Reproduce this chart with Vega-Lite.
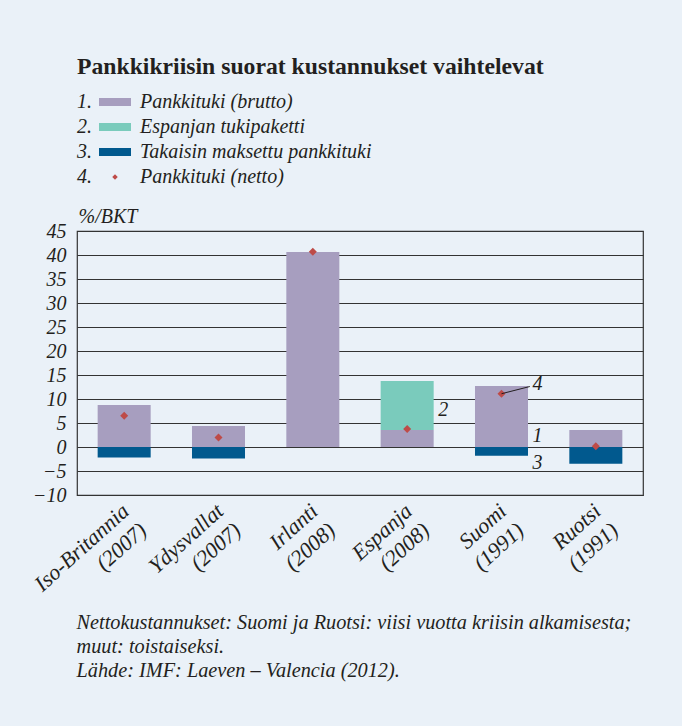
{
  "$schema": "https://vega.github.io/schema/vega-lite/v6.json",
  "autosize": {"type": "none"},
  "width": 566,
  "height": 264,
  "padding": {"left": 77, "top": 231, "right": 39, "bottom": 231},
  "background": "#EAF1F8",
  "title": {
    "text": "Pankkikriisin suorat kustannukset vaihtelevat",
    "anchor": "start",
    "frame": "group",
    "font": "Liberation Serif",
    "fontSize": 23.7,
    "fontWeight": "bold",
    "color": "#231F20",
    "offset": 13
  },
  "config": {
    "view": {"stroke": "#333333", "strokeWidth": 1.2},
    "font": "Liberation Serif",
    "text": {"font": "Liberation Serif"}
  },
  "datasets": {
    "bars": [
      {"country": "Iso-Britannia (2007)", "series": "Pankkituki (brutto)", "value": 8.75, "k": 1},
      {"country": "Iso-Britannia (2007)", "series": "Takaisin maksettu pankkituki", "value": -2.2, "k": 3},
      {"country": "Ydysvallat (2007)", "series": "Pankkituki (brutto)", "value": 4.4, "k": 1},
      {"country": "Ydysvallat (2007)", "series": "Takaisin maksettu pankkituki", "value": -2.4, "k": 3},
      {"country": "Irlanti (2008)", "series": "Pankkituki (brutto)", "value": 40.6, "k": 1},
      {"country": "Espanja (2008)", "series": "Pankkituki (brutto)", "value": 3.55, "k": 1},
      {"country": "Espanja (2008)", "series": "Espanjan tukipaketti", "value": 10.2, "k": 2},
      {"country": "Suomi (1991)", "series": "Pankkituki (brutto)", "value": 12.7, "k": 1},
      {"country": "Suomi (1991)", "series": "Takaisin maksettu pankkituki", "value": -1.8, "k": 3},
      {"country": "Ruotsi (1991)", "series": "Pankkituki (brutto)", "value": 3.55, "k": 1},
      {"country": "Ruotsi (1991)", "series": "Takaisin maksettu pankkituki", "value": -3.5, "k": 3}
    ],
    "net": [
      {"country": "Iso-Britannia (2007)", "series": "Pankkituki (netto)", "net": 6.5},
      {"country": "Ydysvallat (2007)", "series": "Pankkituki (netto)", "net": 2.0},
      {"country": "Irlanti (2008)", "series": "Pankkituki (netto)", "net": 40.7},
      {"country": "Espanja (2008)", "series": "Pankkituki (netto)", "net": 3.75},
      {"country": "Suomi (1991)", "series": "Pankkituki (netto)", "net": 11.1},
      {"country": "Ruotsi (1991)", "series": "Pankkituki (netto)", "net": 0.15}
    ],
    "notes": [
      {"country": "Espanja (2008)", "y": 7.7, "t": "2"},
      {"country": "Suomi (1991)", "y": 2.3, "t": "1"},
      {"country": "Suomi (1991)", "y": -3.3, "t": "3"},
      {"country": "Suomi (1991)", "y": 13.1, "t": "4"}
    ],
    "leader": [
      {"xq": 4.5, "y": 11.1},
      {"xq": 4.8, "y": 12.6}
    ]
  },
  "layer": [
    {
      "layer": [
        {
          "data": {"name": "bars"},
          "mark": {"type": "bar"},
          "encoding": {
            "x": {
              "field": "country",
              "type": "nominal",
              "sort": null,
              "scale": {
                "domain": ["Iso-Britannia (2007)", "Ydysvallat (2007)", "Irlanti (2008)", "Espanja (2008)", "Suomi (1991)", "Ruotsi (1991)"],
                "paddingInner": 0.438,
                "paddingOuter": 0.219
              },
              "axis": {
                "title": ["Nettokustannukset: Suomi ja Ruotsi: viisi vuotta kriisin alkamisesta;", "muut: toistaiseksi.", "Lähde: IMF: Laeven – Valencia (2012)."],
                "titleFont": "Liberation Serif",
                "titleFontSize": 20.3,
                "titleFontStyle": "italic",
                "titleFontWeight": "normal",
                "titleColor": "#231F20",
                "titleAlign": "left",
                "titleAnchor": "start",
                "titleBaseline": "alphabetic",
                "titleX": -1,
                "titleY": 133,
                "titleLineHeight": 24,
                "labelExpr": "[split(datum.label,' ')[0], pad(split(datum.label,' ')[1], length(split(datum.label,' ')[1]) + max(0, round(0.83*(length(split(datum.label,' ')[0]) - length(split(datum.label,' ')[1])))), '\u00a0')]",
                "labelAngle": -42,
                "labelAlign": "right",
                "labelBaseline": "top",
                "labelPadding": 5,
                "labelOffset": -5,
                "labelFont": "Liberation Serif",
                "labelFontSize": 22,
                "labelFontStyle": "italic",
                "labelColor": "#231F20",
                "labelLineHeight": 26,
                "labelOverlap": false,
                "labelBound": false,
                "labelLimit": 400,
                "ticks": false,
                "domain": false,
                "grid": false
              }
            },
            "y": {
              "field": "value",
              "type": "quantitative",
              "stack": "zero",
              "scale": {"domain": [-10, 45], "nice": false, "zero": false},
              "axis": {
                "title": "%/BKT",
                "titleAngle": 0,
                "titleAlign": "left",
                "titleBaseline": "alphabetic",
                "titleX": 1,
                "titleY": -9,
                "titleFont": "Liberation Serif",
                "titleFontSize": 20,
                "titleFontStyle": "italic",
                "titleFontWeight": "normal",
                "titleColor": "#231F20",
                "values": [-10, -5, 0, 5, 10, 15, 20, 25, 30, 35, 40, 45],
                "grid": true,
                "gridColor": "#333333",
                "gridWidth": 1,
                "gridOpacity": 1,
                "ticks": false,
                "domain": false,
                "labelOverlap": false,
                "labelPadding": 11,
                "labelFont": "Liberation Serif",
                "labelFontSize": 20,
                "labelFontStyle": "italic",
                "labelColor": "#231F20"
              }
            },
            "order": {"field": "k", "type": "quantitative"},
            "color": {
              "field": "series",
              "type": "nominal",
              "scale": {
                "domain": ["Pankkituki (brutto)", "Espanjan tukipaketti", "Takaisin maksettu pankkituki", "Pankkituki (netto)"],
                "range": ["#A79EBF", "#7ACBBC", "#01598E", "#BE4B48"]
              },
              "legend": {
                "orient": "none",
                "legendX": 0,
                "legendY": -139,
                "direction": "vertical",
                "padding": 0,
                "title": ["1.", "2.", "3.", "4."],
                "titleOrient": "left",
                "titleFont": "Liberation Serif",
                "titleFontSize": 20,
                "titleFontStyle": "italic",
                "titleFontWeight": "normal",
                "titleColor": "#231F20",
                "titleLineHeight": 25,
                "titleBaseline": "top",
                "titleAnchor": "start",
                "titlePadding": 13,
                "labelFont": "Liberation Serif",
                "labelFontSize": 20,
                "labelFontStyle": "italic",
                "labelColor": "#231F20",
                "labelOffset": 15,
                "labelLimit": 500,
                "symbolSize": 100,
                "symbolType": "M-3.2,-0.8H3.2V0.8H-3.2Z",
                "symbolStrokeWidth": 0,
                "symbolOpacity": 1,
                "rowPadding": 5,
                "encode": {
                  "symbols": {
                    "update": {
                      "shape": {"signal": "datum.value === 'Pankkituki (netto)' ? 'M0,-0.55L0.55,0L0,0.55L-0.55,0Z' : 'M-3.2,-0.8H3.2V0.8H-3.2Z'"}
                    }
                  }
                }
              }
            }
          }
        },
        {
          "data": {"name": "net"},
          "mark": {"type": "point", "shape": "diamond", "filled": true, "size": 64, "opacity": 1},
          "encoding": {
            "x": {"field": "country", "type": "nominal", "sort": null},
            "y": {
              "field": "net",
              "type": "quantitative",
              "scale": {"domain": [-10, 45], "nice": false, "zero": false},
              "axis": {
                "title": "%/BKT",
                "titleAngle": 0,
                "titleAlign": "left",
                "titleBaseline": "alphabetic",
                "titleX": 1,
                "titleY": -9,
                "titleFont": "Liberation Serif",
                "titleFontSize": 20,
                "titleFontStyle": "italic",
                "titleFontWeight": "normal",
                "titleColor": "#231F20",
                "values": [-10, -5, 0, 5, 10, 15, 20, 25, 30, 35, 40, 45],
                "grid": true,
                "gridColor": "#333333",
                "gridWidth": 1,
                "gridOpacity": 1,
                "ticks": false,
                "domain": false,
                "labelOverlap": false,
                "labelPadding": 11,
                "labelFont": "Liberation Serif",
                "labelFontSize": 20,
                "labelFontStyle": "italic",
                "labelColor": "#231F20"
              }
            },
            "color": {"field": "series", "type": "nominal"}
          }
        },
        {
          "data": {"name": "notes"},
          "mark": {"type": "text", "dx": 36, "align": "center", "baseline": "middle", "font": "Liberation Serif", "fontSize": 20, "fontStyle": "italic", "color": "#231F20"},
          "encoding": {
            "x": {"field": "country", "type": "nominal", "sort": null},
            "y": {
              "field": "y",
              "type": "quantitative",
              "scale": {"domain": [-10, 45], "nice": false, "zero": false},
              "axis": {
                "title": "%/BKT",
                "titleAngle": 0,
                "titleAlign": "left",
                "titleBaseline": "alphabetic",
                "titleX": 1,
                "titleY": -9,
                "titleFont": "Liberation Serif",
                "titleFontSize": 20,
                "titleFontStyle": "italic",
                "titleFontWeight": "normal",
                "titleColor": "#231F20",
                "values": [-10, -5, 0, 5, 10, 15, 20, 25, 30, 35, 40, 45],
                "grid": true,
                "gridColor": "#333333",
                "gridWidth": 1,
                "gridOpacity": 1,
                "ticks": false,
                "domain": false,
                "labelOverlap": false,
                "labelPadding": 11,
                "labelFont": "Liberation Serif",
                "labelFontSize": 20,
                "labelFontStyle": "italic",
                "labelColor": "#231F20"
              }
            },
            "text": {"field": "t"}
          }
        }
      ]
    },
    {
      "data": {"name": "leader"},
      "mark": {"type": "line", "color": "#231F20", "strokeWidth": 1},
      "encoding": {
        "x": {"field": "xq", "type": "quantitative", "scale": {"domain": [0, 6], "nice": false, "zero": false}, "axis": null},
        "y": {
          "field": "y",
          "type": "quantitative",
          "scale": {"domain": [-10, 45], "nice": false, "zero": false},
          "axis": {
            "title": "%/BKT",
            "titleAngle": 0,
            "titleAlign": "left",
            "titleBaseline": "alphabetic",
            "titleX": 1,
            "titleY": -9,
            "titleFont": "Liberation Serif",
            "titleFontSize": 20,
            "titleFontStyle": "italic",
            "titleFontWeight": "normal",
            "titleColor": "#231F20",
            "values": [-10, -5, 0, 5, 10, 15, 20, 25, 30, 35, 40, 45],
            "grid": true,
            "gridColor": "#333333",
            "gridWidth": 1,
            "gridOpacity": 1,
            "ticks": false,
            "domain": false,
            "labelOverlap": false,
            "labelPadding": 11,
            "labelFont": "Liberation Serif",
            "labelFontSize": 20,
            "labelFontStyle": "italic",
            "labelColor": "#231F20"
          }
        }
      }
    }
  ],
  "resolve": {"scale": {"x": "independent"}}
}
